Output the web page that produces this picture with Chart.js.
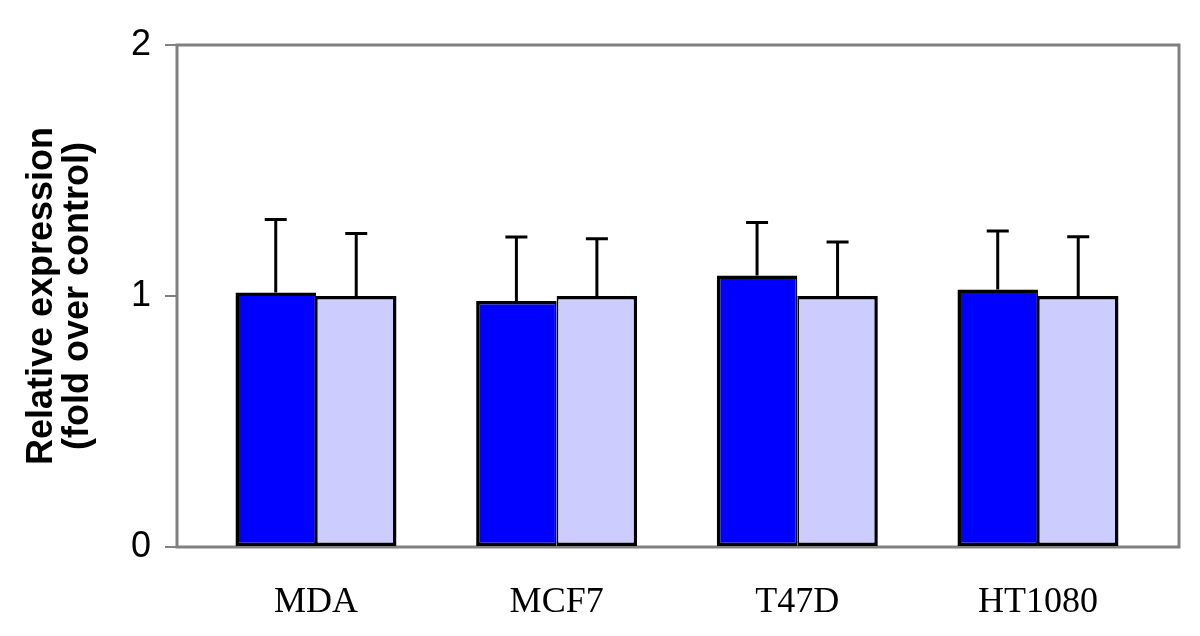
<!DOCTYPE html>
<html>
<head>
<meta charset="utf-8">
<script src="https://cdn.jsdelivr.net/npm/chart.js@4/dist/chart.umd.min.js"></script>
<style>
  html, body { margin: 0; padding: 0; background: #fff; }
  #wrap { width: 1200px; height: 636px; }
</style>
</head>
<body>
<div id="wrap"><canvas id="chart" width="1200" height="636"></canvas></div>
<script>
// Data
var cellLines = ['MDA', 'MCF7', 'T47D', 'HT1080'];
var treatedValues = [1.014, 0.98, 1.082, 1.026];
var treatedErrors = [0.291, 0.255, 0.211, 0.233];
var controlValues = [1.0, 1.0, 1.0, 1.0];
var controlErrors = [0.249, 0.228, 0.215, 0.236];
var yTicks = [0, 1, 2];

var frameGray = '#808080';

function toPoints(values) {
  return values.map(function (v, i) { return { x: i, y: v }; });
}

// Gray box behind the bars, error bars on top of them
var errorBarPlugin = {
  id: 'errorBars',
  beforeDatasetsDraw: function (chart) {
    var ctx = chart.ctx;
    var area = chart.chartArea;
    ctx.save();
    ctx.strokeStyle = frameGray;
    ctx.lineWidth = 3;
    ctx.strokeRect(area.left, area.top, area.right - area.left, area.bottom - area.top);
    ctx.restore();
  },
  afterDatasetsDraw: function (chart) {
    var ctx = chart.ctx;
    var yScale = chart.scales.y;
    ctx.save();
    ctx.strokeStyle = '#000';
    ctx.lineWidth = 3;
    chart.data.datasets.forEach(function (ds, di) {
      var meta = chart.getDatasetMeta(di);
      meta.data.forEach(function (bar, i) {
        var top = yScale.getPixelForValue(ds.data[i].y + ds.errors[i]);
        ctx.beginPath();
        ctx.moveTo(bar.x, bar.y);
        ctx.lineTo(bar.x, top);
        ctx.moveTo(bar.x - 11, top);
        ctx.lineTo(bar.x + 11, top);
        ctx.stroke();
      });
    });
    ctx.restore();
  }
};

var ctx = document.getElementById('chart').getContext('2d');
var myChart = new Chart(ctx, {
  type: 'bar',
  data: {
    datasets: [{
      label: 'Treated',
      data: toPoints(treatedValues),
      errors: treatedErrors,
      backgroundColor: '#0000ff',
      borderColor: '#000',
      borderWidth: { top: 3.5, right: 1.75, bottom: 3.5, left: 3.5 },
      borderSkipped: false
    }, {
      label: 'Control',
      data: toPoints(controlValues),
      errors: controlErrors,
      backgroundColor: '#ccccff',
      borderColor: '#000',
      borderWidth: { top: 3.5, right: 3.5, bottom: 3.5, left: 1.75 },
      borderSkipped: false
    }]
  },
  options: {
    responsive: false,
    animation: false,
    layout: { padding: { top: 45, right: 21, bottom: 0, left: 0 } },
    plugins: {
      legend: { display: false },
      tooltip: { enabled: false }
    },
    datasets: {
      bar: { categoryPercentage: 0.669, barPercentage: 1.0 }
    },
    scales: {
      x: {
        type: 'linear',
        min: -0.5775,
        max: 3.586,
        offset: false,
        afterBuildTicks: function (scale) {
          scale.ticks = cellLines.map(function (c, i) { return { value: i }; });
        },
        grid: { display: false },
        border: { display: false },
        ticks: {
          color: '#000',
          padding: 26,
          maxRotation: 0,
          autoSkip: false,
          callback: function (value) { return cellLines[value]; },
          font: { family: '"Liberation Serif", "Times New Roman", serif', size: 36 }
        },
        afterFit: function (scale) { scale.height = 89; }
      },
      y: {
        min: 0,
        max: 2,
        afterBuildTicks: function (scale) {
          scale.ticks = yTicks.map(function (v) { return { value: v }; });
        },
        grid: {
          drawOnChartArea: false,
          color: frameGray,
          lineWidth: 2,
          tickLength: 12
        },
        border: { display: false },
        ticks: {
          color: '#000',
          padding: 14,
          font: { family: '"Liberation Sans", Arial, sans-serif', size: 36 }
        },
        title: {
          display: true,
          text: ['Relative expression', '(fold over control)'],
          color: '#000',
          padding: { top: 24, bottom: 0 },
          font: { family: '"Liberation Sans", Arial, sans-serif', size: 36, weight: 'bold', lineHeight: 1.0 }
        },
        afterFit: function (scale) { scale.width = 177; }
      }
    }
  },
  plugins: [errorBarPlugin]
});
</script>
</body>
</html>
